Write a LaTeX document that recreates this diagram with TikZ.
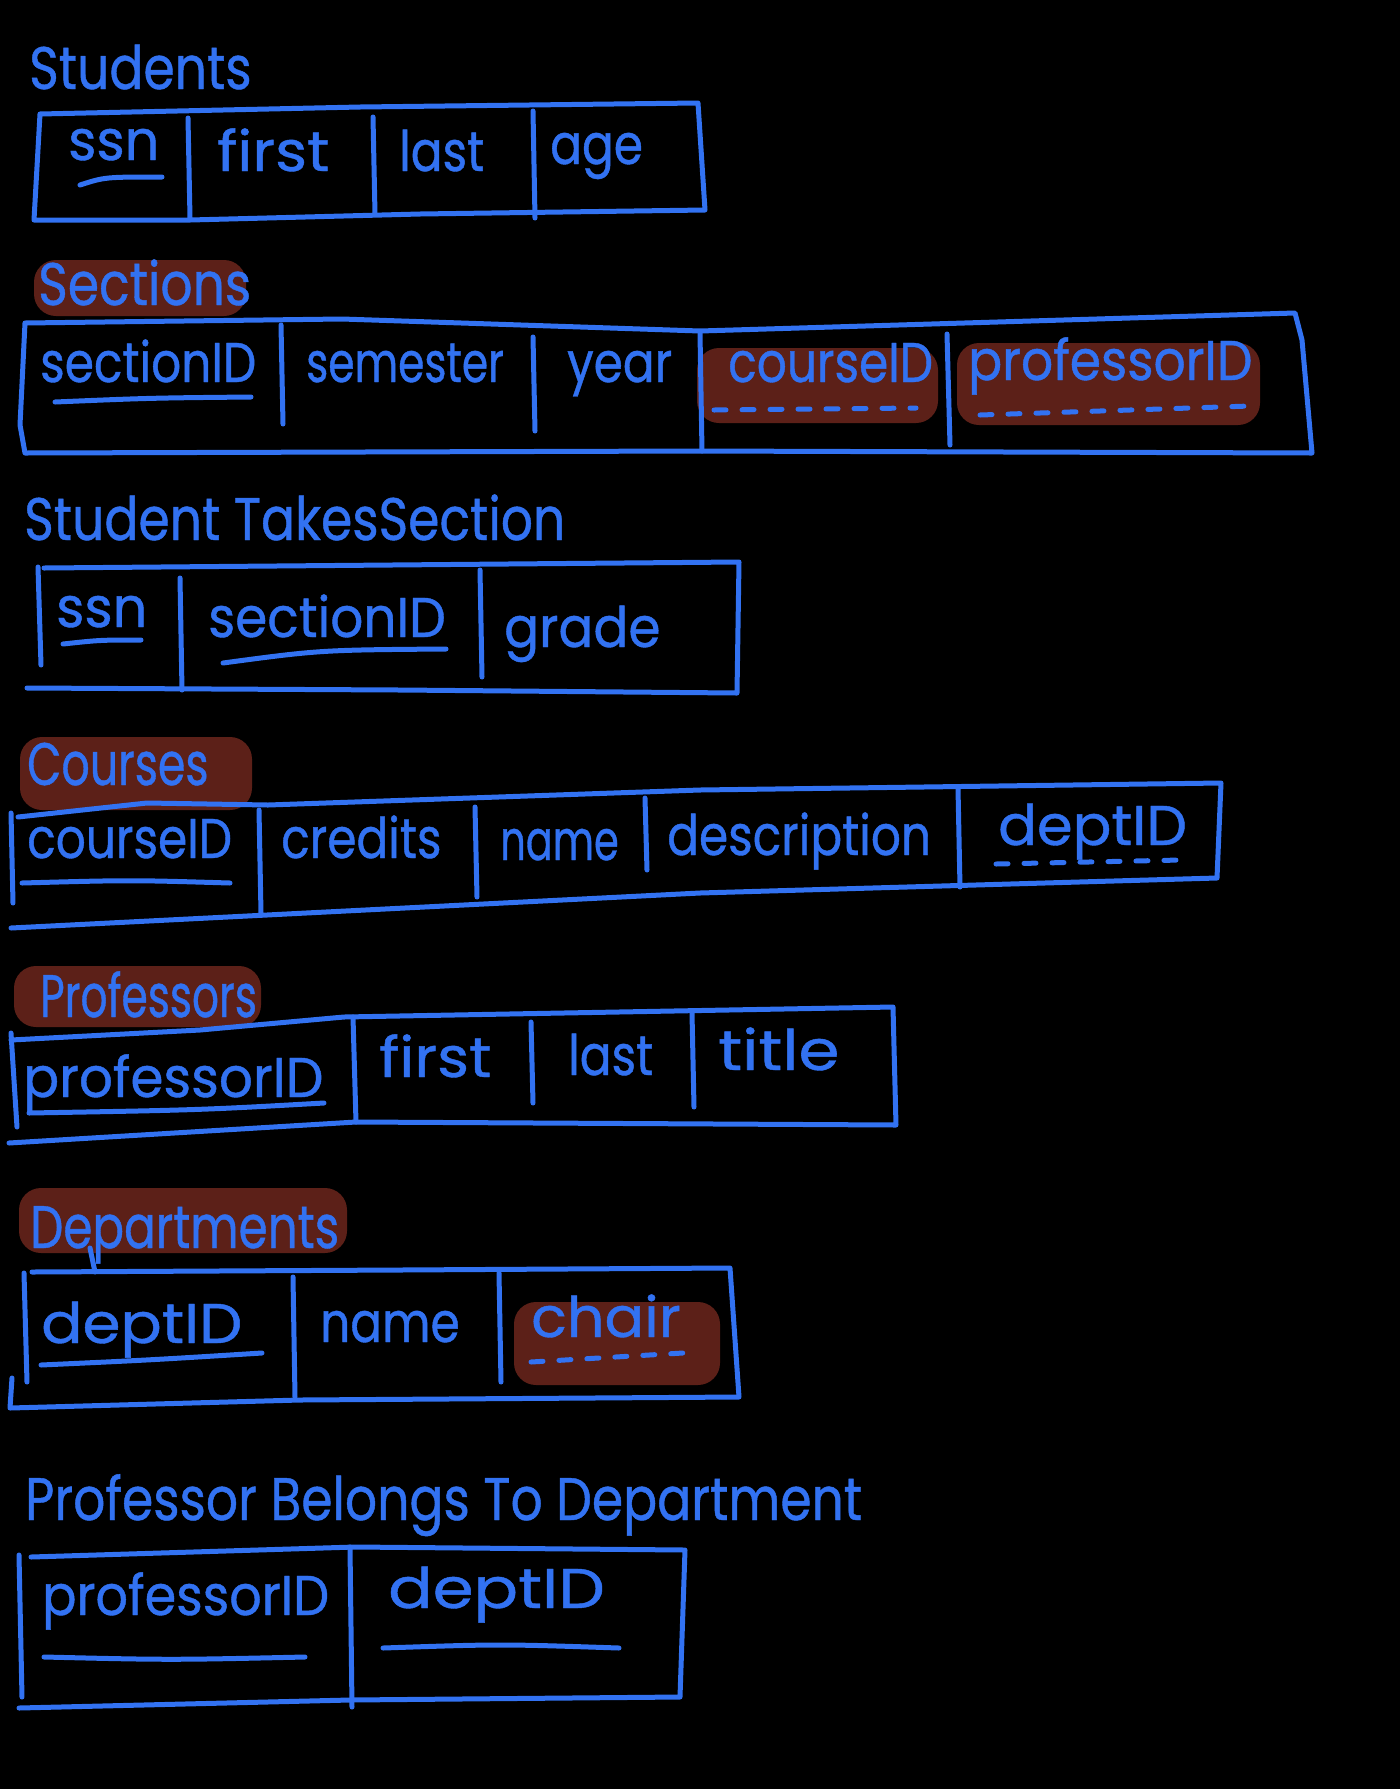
\documentclass[tikz,border=0pt]{standalone}
\usepackage{graphicx}
\usepackage{fontspec}
\newfontfamily\hand[FakeStretch=0.84, FakeBold=0.7]{Poppins}
\definecolor{ink}{RGB}{50,114,242}
\definecolor{marker}{RGB}{92,32,24}
% horizontal stretch of a single word
\newcommand{\hs}[2]{\scalebox{#1}[1]{#2}}
\tikzset{
  pen/.style={draw=ink, line width=5pt, line cap=round, line join=round},
  dashpen/.style={pen, dash pattern=on 12pt off 16pt},
  title/.style={anchor=base west, inner sep=0pt, text=ink, font=\hand\fontsize{60}{70}\selectfont},
  field/.style={anchor=base west, inner sep=0pt, text=ink, font=\hand\fontsize{56}{66}\selectfont},
  hl/.style={fill=marker, rounded corners=22pt},
}
\begin{document}
\begin{tikzpicture}[x=1pt,y=-1pt]
\fill[black] (0,0) rectangle (1400,1789);
\useasboundingbox (0,0) rectangle (1400,1789);

% ---------- Students ----------
\node[title] (tStudents) at (29,89) {Students};
\draw[pen] (40,114) -- (360,107) -- (698,103) -- (705,210) -- (420,214) -- (190,220) -- (34,220) -- cycle;
\draw[pen] (188,118) -- (190,218);
\draw[pen] (373,117) -- (375,214);
\draw[pen] (533,111) -- (535,218);
\node[field] (stSsn) at (68,160) {\hs{1.15}{ssn}};
\draw[pen] (80,185) .. controls (105,177) .. (162,177);
\node[field] (stFirst) at (217,171) {\hs{1.3}{first}};
\node[field] (stLast) at (399,171) {last};
\node[field] (stAge) at (550,164) {age};

% ---------- Sections ----------
\fill[hl] (34,260) rectangle (246,316);
\node[title] (tSections) at (38,305) {Sections};
\draw[pen] (25,323) -- (342,319) -- (700,331) -- (1295,313) -- (1302,340) -- (1312,453) -- (700,451) -- (25,453) -- (20,425) -- cycle;
\fill[hl] (697,348) rectangle (938,423);
\fill[hl] (957,343) rectangle (1260,425);
\draw[pen] (281,325) -- (283,424);
\draw[pen] (533,337) -- (535,431);
\draw[pen] (700,333) -- (702,451);
\draw[pen] (947,334) -- (950,445);
\node[field] (seId) at (40,382) {sectionID};
\draw[pen] (55,402) .. controls (150,398) .. (251,397);
\node[field] (seSem) at (306,382) {\hs{0.9}{semester}};
\node[field] (seYear) at (567,382) {year};
\node[field] (seCourse) at (728,382) {courseID};
\draw[dashpen] (714,410) -- (916,408);
\node[field] (seProf) at (968,380) {\hs{1.07}{professorID}};
\draw[dashpen] (980,415) -- (1250,406);

% ---------- StudentTakesSection ----------
\node[title] (tTakes) at (24,540) {Student TakesSection};
\draw[pen] (44,568) -- (739,562) -- (737,693) -- (400,690) -- (27,688);
\draw[pen] (38,567) -- (41,665);
\draw[pen] (180,578) -- (182,690);
\draw[pen] (480,570) -- (482,677);
\node[field] (tkSsn) at (56,627) {\hs{1.15}{ssn}};
\draw[pen] (63,644) .. controls (100,640) .. (141,640);
\node[field] (tkSec) at (208,637) {\hs{1.1}{sectionID}};
\draw[pen] (223,663) .. controls (320,650) .. (446,649);
\node[field] (tkGrade) at (504,647) {\hs{1.1}{grade}};

% ---------- Courses ----------
\fill[hl] (20,737) rectangle (252,810);
\node[title] (tCourses) at (27,785) {\hs{0.88}{Courses}};
\draw[pen] (18,817) -- (147,803) -- (268,805) -- (700,790) -- (1221,783) -- (1217,878) -- (700,893) -- (11,928);
\draw[pen] (11,813) -- (13,903);
\draw[pen] (259,810) -- (261,913);
\draw[pen] (475,807) -- (477,897);
\draw[pen] (645,798) -- (647,870);
\draw[pen] (958,788) -- (960,887);
\node[field] (coId) at (27,858) {courseID};
\draw[pen] (22,883) .. controls (130,880) .. (230,883);
\node[field] (coCred) at (281,858) {credits};
\node[field] (coName) at (500,860) {\hs{0.85}{name}};
\node[field] (coDesc) at (667,855) {description};
\node[field] (coDept) at (998,845) {\hs{1.22}{deptID}};
\draw[dashpen] (996,864) -- (1181,860);

% ---------- Professors ----------
\fill[hl] (14,966) rectangle (261,1027);
\node[title] (tProfs) at (40,1017) {\hs{0.84}{Professors}};
\draw[pen] (11,1040) -- (200,1030) -- (344,1017) -- (893,1007) -- (896,1125) -- (356,1122) -- (9,1143);
\draw[pen] (11,1033) -- (17,1127);
\draw[pen] (353,1017) -- (356,1122);
\draw[pen] (531,1022) -- (533,1103);
\draw[pen] (692,1013) -- (694,1107);
\node[field] (prId) at (23,1097) {\hs{1.13}{professorID}};
\draw[pen] (29,1113) .. controls (200,1110) .. (324,1103);
\node[field] (prFirst) at (379,1077) {\hs{1.3}{first}};
\node[field] (prLast) at (568,1075) {last};
\node[field] (prTitle) at (718,1070) {\hs{1.4}{title}};

% ---------- Departments ----------
\fill[hl] (19,1188) rectangle (347,1253);
\node[title] (tDepts) at (30,1248) {\hs{0.93}{Departments}};
\draw[pen] (90,1248) -- (95,1272);
\draw[pen] (32,1272) -- (400,1270) -- (730,1268) -- (739,1397) -- (300,1400) -- (10,1408) -- (12,1378);
\draw[pen] (24,1273) -- (27,1382);
\draw[pen] (293,1277) -- (295,1397);
\draw[pen] (499,1273) -- (501,1382);
\fill[hl] (514,1302) rectangle (720,1385);
\node[field] (deId) at (41,1343) {\hs{1.3}{deptID}};
\draw[pen] (41,1365) .. controls (150,1360) .. (262,1353);
\node[field] (deName) at (320,1342) {name};
\node[field] (deChair) at (531,1337) {\hs{1.25}{chair}};
\draw[dashpen] (531,1362) -- (683,1353);

% ---------- ProfessorBelongsToDepartment ----------
\node[title] (tBelongs) at (25,1520) {Professor Belongs To Department};
\draw[pen] (31,1557) -- (355,1547) -- (685,1550) -- (680,1697) -- (350,1700) -- (19,1708);
\draw[pen] (19,1555) -- (22,1697);
\draw[pen] (350,1547) -- (352,1707);
\node[field] (pbProf) at (42,1615) {\hs{1.08}{professorID}};
\draw[pen] (44,1657) .. controls (170,1660) .. (305,1657);
\node[field] (pbDept) at (388,1608) {\hs{1.4}{deptID}};
\draw[pen] (383,1648) .. controls (500,1644) .. (619,1648);
\end{tikzpicture}
\end{document}
